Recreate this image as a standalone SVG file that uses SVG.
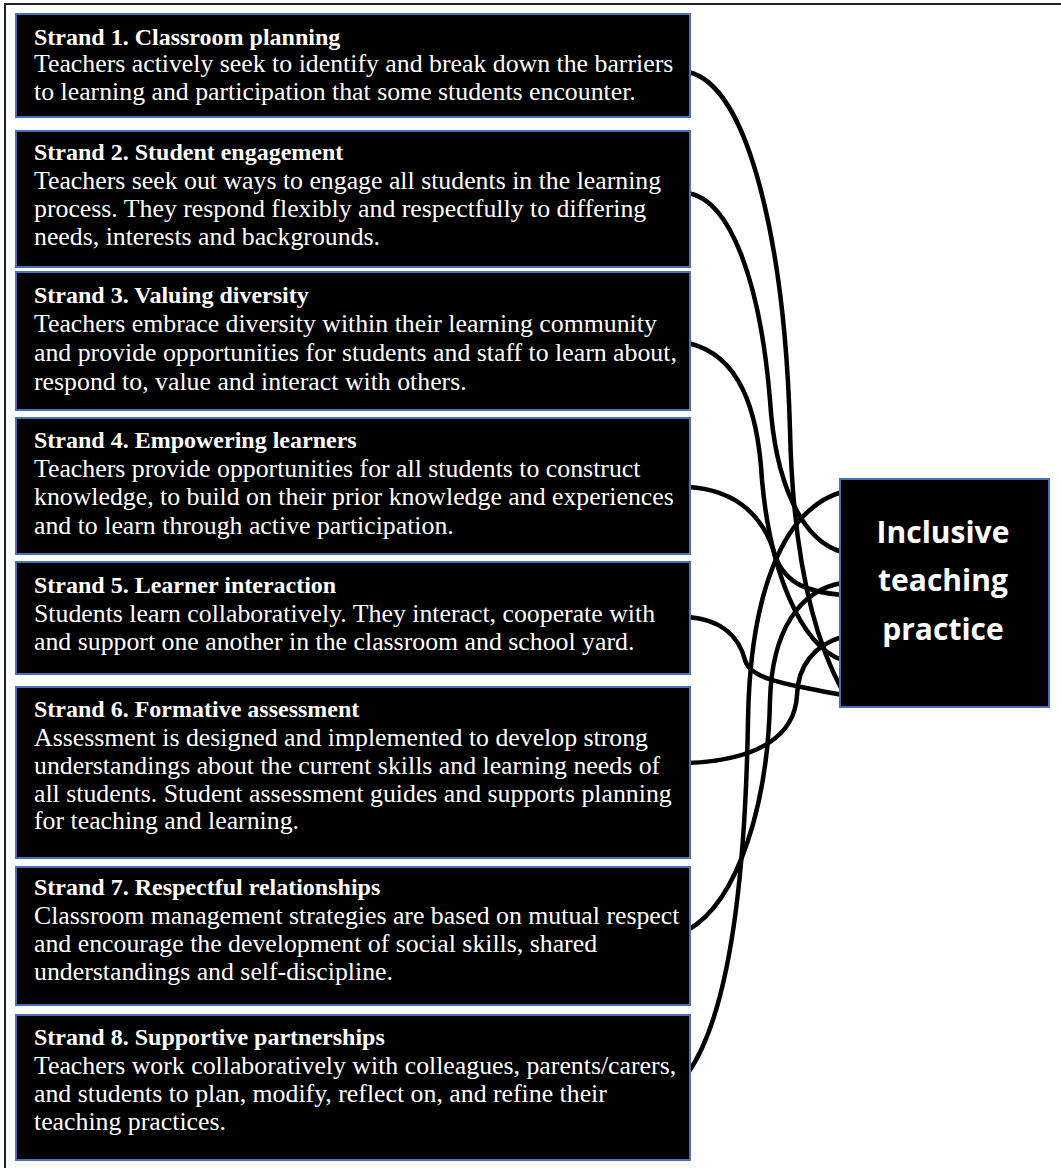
<svg xmlns="http://www.w3.org/2000/svg" width="1061" height="1168" viewBox="0 0 1061 1168">
<style>
.box{fill:#000;stroke:#4a6fb8;stroke-width:2}
.t{font-family:"Liberation Serif","Times New Roman",serif;font-size:24px;font-weight:bold;fill:#fff}
.b{font-family:"Liberation Serif","Times New Roman",serif;font-size:25.8px;fill:#fff}
.c{fill:none;stroke:#000;stroke-width:4.5;stroke-linecap:round}
.m{font-family:"Open Sans","Noto Sans",sans-serif;font-size:30px;font-weight:bold;fill:#fff;text-anchor:middle}
</style>
<rect width="1061" height="1168" fill="#fff"/>
<path d="M5,1168 V4 H1061" fill="none" stroke="#222" stroke-width="2"/>
<g id="connectors">
<path class="c" d="M688,72 C750,85 785,250 790,430 C793,560 815,640 842,690"/>
<path class="c" d="M688,193 C730,200 760,280 770,400 C775,480 800,540 842,552"/>
<path class="c" d="M688,343 C740,355 758,410 762,480 C770,570 800,645 842,660"/>
<path class="c" d="M688,487 C740,490 765,520 775,555 C785,585 810,592 842,595"/>
<path class="c" d="M688,617 C725,620 740,640 745,660 C750,680 790,685 842,695"/>
<path class="c" d="M688,763 C760,760 795,735 797,695 C798,665 815,645 842,637"/>
<path class="c" d="M688,930 C740,900 768,800 770,700 C772,630 800,590 842,583"/>
<path class="c" d="M688,1073 C725,1020 745,900 748,720 C750,600 780,510 842,492"/>
</g>
<g id="strand1">
<rect class="box" x="16" y="14" width="674" height="103"/>
<text class="t" x="34" y="45">Strand 1. Classroom planning</text>
<text class="b" x="34" y="72">Teachers actively seek to identify and break down the barriers</text>
<text class="b" x="34" y="100">to learning and participation that some students encounter.</text>
</g>
<g id="strand2">
<rect class="box" x="16" y="131" width="674" height="136"/>
<text class="t" x="34" y="160">Strand 2. Student engagement</text>
<text class="b" x="34" y="189">Teachers seek out ways to engage all students in the learning</text>
<text class="b" x="34" y="217">process. They respond flexibly and respectfully to differing</text>
<text class="b" x="34" y="245">needs, interests and backgrounds.</text>
</g>
<g id="strand3">
<rect class="box" x="16" y="272" width="674" height="138"/>
<text class="t" x="34" y="303">Strand 3. Valuing diversity</text>
<text class="b" x="34" y="332">Teachers embrace diversity within their learning community</text>
<text class="b" x="34" y="361">and provide opportunities for students and staff to learn about,</text>
<text class="b" x="34" y="390">respond to, value and interact with others.</text>
</g>
<g id="strand4">
<rect class="box" x="16" y="418" width="674" height="136"/>
<text class="t" x="34" y="448">Strand 4. Empowering learners</text>
<text class="b" x="34" y="477">Teachers provide opportunities for all students to construct</text>
<text class="b" x="34" y="505">knowledge, to build on their prior knowledge and experiences</text>
<text class="b" x="34" y="534">and to learn through active participation.</text>
</g>
<g id="strand5">
<rect class="box" x="16" y="562" width="674" height="112"/>
<text class="t" x="34" y="593">Strand 5. Learner interaction</text>
<text class="b" x="34" y="622">Students learn collaboratively. They interact, cooperate with</text>
<text class="b" x="34" y="650">and support one another in the classroom and school yard.</text>
</g>
<g id="strand6">
<rect class="box" x="16" y="687" width="674" height="171"/>
<text class="t" x="34" y="717">Strand 6. Formative assessment</text>
<text class="b" x="34" y="746">Assessment is designed and implemented to develop strong</text>
<text class="b" x="34" y="774">understandings about the current skills and learning needs of</text>
<text class="b" x="34" y="802">all students. Student assessment guides and supports planning</text>
<text class="b" x="34" y="829">for teaching and learning.</text>
</g>
<g id="strand7">
<rect class="box" x="16" y="867" width="674" height="138"/>
<text class="t" x="34" y="895">Strand 7. Respectful relationships</text>
<text class="b" x="34" y="924">Classroom management strategies are based on mutual respect</text>
<text class="b" x="34" y="952">and encourage the development of social skills, shared</text>
<text class="b" x="34" y="980">understandings and self-discipline.</text>
</g>
<g id="strand8">
<rect class="box" x="16" y="1015" width="674" height="145"/>
<text class="t" x="34" y="1045">Strand 8. Supportive partnerships</text>
<text class="b" x="34" y="1074">Teachers work collaboratively with colleagues, parents/carers,</text>
<text class="b" x="34" y="1102">and students to plan, modify, reflect on, and refine their</text>
<text class="b" x="34" y="1130">teaching practices.</text>
</g>
<g id="inclusive">
<rect class="box" x="840" y="479" width="209" height="228"/>
<text class="m" x="943" y="543">Inclusive</text>
<text class="m" x="943" y="591">teaching</text>
<text class="m" x="943" y="640">practice</text>
</g>
</svg>
